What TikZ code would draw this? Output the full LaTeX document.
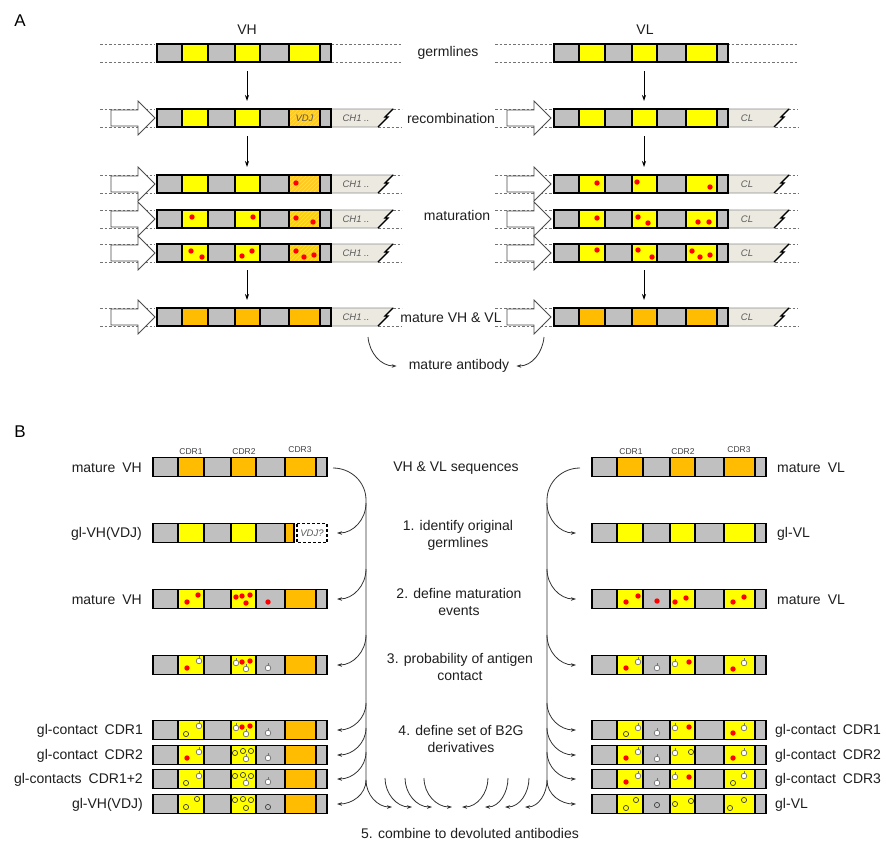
\documentclass[tikz,border=0pt]{standalone}
\usepackage{fontspec}
\setmainfont{Liberation Sans}
\usetikzlibrary{arrows.meta}
\definecolor{sgray}{RGB}{192,192,192}
\definecolor{syel}{RGB}{255,255,0}
\definecolor{sorg}{RGB}{255,188,0}
\definecolor{shatch}{RGB}{255,200,40}
\definecolor{sbeige}{RGB}{236,234,224}
\definecolor{sred}{RGB}{255,0,0}
\definecolor{stxt}{RGB}{30,30,30}
\tikzset{
  lbl/.style={font=\fontsize{14}{17}\selectfont, inner sep=0pt, text=stxt, align=center},
  cdr/.style={font=\fontsize{8.5}{10}\selectfont, inner sep=0pt, text=black!75},
  chtxt/.style={font=\fontsize{9.5}{10}\selectfont\itshape, inner sep=0pt, text=black!65},
  dashline/.style={dash pattern=on 2.5pt off 2pt, black!55, line width=0.7pt},
  varr/.style={-{Stealth[length=6pt,width=4pt]}, line width=0.8pt},
  flow/.style={-{Stealth[length=5pt,width=3.5pt]}, line width=0.8pt, black!80},
  segline/.style={line width=1.1pt},
  barframe/.style={line width=1.7pt},
  hollow/.style={fill=white, draw=black!70, line width=0.8pt},
}
\def\segx{{0,25,51,78,103,132,163,174}}
\def\hh{9}
\newcommand\drawbar[4]{%
  \foreach \cc [count=\i from 0] in {#3}{%
    \pgfmathsetmacro\xa{#1+\segx[\i]}%
    \pgfmathsetmacro\xb{#1+\segx[\i+1]}%
    \filldraw[fill=\cc, draw=black, segline] (\xa,#2-\hh) rectangle (\xb,#2+\hh);
  }
  \draw[barframe] (#1,#2-\hh) rectangle (#1+174,#2+\hh);
  \coordinate (#4-w) at (#1,#2);
  \coordinate (#4-e) at (#1+174,#2);
  \coordinate (#4-n) at (#1+90,#2-\hh);
  \coordinate (#4-s) at (#1+90,#2+\hh);
}
\newcommand\hatchseg[2]{% x0 of bar, yc
  \begin{scope}
    \clip (#1+132,#2-\hh) rectangle (#1+163,#2+\hh);
    \fill[shatch] (#1+132,#2-\hh) rectangle (#1+163,#2+\hh);
    \foreach \k in {-24,-20,...,34}{
      \draw[syel!70!shatch, line width=0.5pt] (#1+132+\k,#2+\hh) -- ++(20,-20);
    }
  \end{scope}
  \draw[segline] (#1+132,#2-\hh) rectangle (#1+163,#2+\hh);
  \draw[barframe] (#1,#2-\hh) rectangle (#1+174,#2+\hh);
}
\newcommand\hollowarrow[3]{%
  \draw[hollow] (#1-44,#2-8) -- (#1-17,#2-8) -- (#1-17,#2-17) -- (#1,#2)
     -- (#1-17,#2+17) -- (#1-17,#2+8) -- (#1-44,#2+8) -- cycle;
  \coordinate (#3) at (#1,#2);
}
\newcommand\chbox[5]{% x0, yc, text, name, text offset
  \filldraw[fill=sbeige, draw=black!45, line width=0.8pt] (#1,#2-9) -- (#1+62,#2-9)
     -- (#1+54,#2-1) -- (#1+57,#2-1) -- (#1+47,#2+9) -- (#1,#2+9) -- cycle;
  \draw[line width=1.3pt] (#1+62,#2-9) -- (#1+54,#2-1) -- (#1+57,#2-1) -- (#1+47,#2+9);
  \node[chtxt] (#4) at (#1+#5,#2) {#3};
}
\newcommand\rdot[2]{\fill[sred] (#1,#2) circle (2.7);}
\newcommand\wdot[2]{\draw[line width=0.6pt, black!55] (#1,#2-2.5) -- (#1,#2-5);
  \filldraw[fill=white, draw=black!55, line width=0.7pt] (#1,#2) circle (2.8);}
\newcommand\gdot[2]{\draw[line width=0.7pt, black!75] (#1,#2) circle (2.6);}
\begin{document}
\begin{tikzpicture}[x=1pt,y=-1pt]
\useasboundingbox (0,0) rectangle (886,841);
\fill[white] (0,0) rectangle (886,841);

%================ PANEL A =================
\node[font=\fontsize{17}{17}\selectfont, inner sep=0pt] (labA) at (20,21) {A};
\node[lbl] (tVH) at (247,30) {VH};
\node[lbl] (tVL) at (645,30) {VL};

% dashed guide lines
\foreach \y in {53,118,184,219,253,317}{
  \draw[dashline] (100,\y-9) -- (155,\y-9) (100,\y+9) -- (155,\y+9);
  \draw[dashline] (495,\y-9) -- (552,\y-9) (495,\y+9) -- (552,\y+9);
}
\draw[dashline] (331,44) -- (402,44) (331,62) -- (402,62);
\draw[dashline] (727,44) -- (798,44) (727,62) -- (798,62);
\foreach \y in {118,184,219,253,317}{
  \draw[dashline] (393,\y-9) -- (402,\y-9) (378,\y+9) -- (402,\y+9);
  \draw[dashline] (788,\y-9) -- (798,\y-9) (775,\y+9) -- (798,\y+9);
}

% constant-region boxes
\foreach \y [count=\n from 2] in {118,184,219,253,317}{
  \chbox{331}{\y}{CH1 ..}{chh\n}{25}
  \chbox{727}{\y}{CL}{chl\n}{20}
}

% VH bars
\drawbar{157}{53}{sgray,syel,sgray,syel,sgray,syel,sgray}{vh1}
\drawbar{157}{118}{sgray,syel,sgray,syel,sgray,sorg,sgray}{vh2}
\hatchseg{157}{118}
\node[chtxt, font=\fontsize{9.5}{10}\selectfont\itshape] (vdj) at (304.5,118) {VDJ};
\drawbar{157}{184}{sgray,syel,sgray,syel,sgray,sorg,sgray}{vh3}
\hatchseg{157}{184}
\drawbar{157}{219}{sgray,syel,sgray,syel,sgray,sorg,sgray}{vh4}
\hatchseg{157}{219}
\drawbar{157}{253}{sgray,syel,sgray,syel,sgray,sorg,sgray}{vh5}
\hatchseg{157}{253}
\drawbar{157}{317}{sgray,sorg,sgray,sorg,sgray,sorg,sgray}{vh6}

% VL bars
\drawbar{554}{53}{sgray,syel,sgray,syel,sgray,syel,sgray}{vl1}
\drawbar{554}{118}{sgray,syel,sgray,syel,sgray,syel,sgray}{vl2}
\drawbar{554}{184}{sgray,syel,sgray,syel,sgray,syel,sgray}{vl3}
\drawbar{554}{219}{sgray,syel,sgray,syel,sgray,syel,sgray}{vl4}
\drawbar{554}{253}{sgray,syel,sgray,syel,sgray,syel,sgray}{vl5}
\drawbar{554}{317}{sgray,sorg,sgray,sorg,sgray,sorg,sgray}{vl6}

% mutations panel A
\foreach \x/\y in {296/183, 192/217,253/217,296/218,313/222,
   191/251,202/257,242/256,252/251,296/251,304/257,314/255,
   597/183,637/182,710/187, 597/218,638/217,648/223,698/222,709/222,
   597/250,638/250,652/257,692/251,700/257,710/255}{\rdot{\x}{\y}}

% hollow arrows
\foreach \y [count=\n from 2] in {118,184,219,253,317}{
  \hollowarrow{155}{\y}{hah\n}
  \hollowarrow{551}{\y}{hal\n}
}

% vertical arrows
\draw[varr, shorten <=9pt, shorten >=8pt] (vh1-s) -- (vh2-n);
\draw[varr, shorten <=9pt, shorten >=8pt] (vh2-s) -- (vh3-n);
\draw[varr, shorten <=8pt, shorten >=8pt] (vh5-s) -- (vh6-n);
\draw[varr, shorten <=9pt, shorten >=8pt] (vl1-s) -- (vl2-n);
\draw[varr, shorten <=9pt, shorten >=8pt] (vl2-s) -- (vl3-n);
\draw[varr, shorten <=8pt, shorten >=8pt] (vl5-s) -- (vl6-n);

% middle labels A
\node[lbl] (germ) at (448,53) {germlines};
\node[lbl] (recomb) at (451,118) {recombination};
\node[lbl] (matur) at (457,215) {maturation};
\node[lbl] (matvhvl) at (451,318) {mature VH \& VL};
\node[lbl] (mab) at (459,366) {mature antibody};
\coordinate (mabl) at (368,337);
\coordinate (mabr) at (544,337);
\draw[flow] (mabl) to[out=-85,in=180] ([xshift=-12pt]mab.west);
\draw[flow] (mabr) to[out=-95,in=0] ([xshift=7pt]mab.east);

%================ PANEL B =================
\node[font=\fontsize{17}{17}\selectfont, inner sep=0pt] (labB) at (20,432) {B};
\def\hh{9.5}

% VH side
\drawbar{153}{467}{sgray,sorg,sgray,sorg,sgray,sorg,sgray}{bh1}
% gl-VH(VDJ) special row
\foreach \cc [count=\i from 0] in {sgray,syel,sgray,syel,sgray}{
  \pgfmathsetmacro\xa{153+\segx[\i]}
  \pgfmathsetmacro\xb{153+\segx[\i+1]}
  \filldraw[fill=\cc, draw=black, segline] (\xa,523.5) rectangle (\xb,542.5);
}
\filldraw[fill=sorg, draw=black, segline] (285,523.5) rectangle (294,542.5);
\draw[barframe] (153,523.5) rectangle (294,542.5);
\draw[line width=1.2pt, dash pattern=on 3pt off 2pt] (297,523.5) rectangle (327,542.5);
\node[chtxt] (vdjq) at (312,533) {VDJ?};
\coordinate (bh2-e) at (327,533);
\foreach \y [count=\n from 3] in {599,665,730,755,779,804}{
  \drawbar{153}{\y}{sgray,syel,sgray,syel,sgray,sorg,sgray}{bh\n}
}

% VL side
\drawbar{592}{467}{sgray,sorg,sgray,sorg,sgray,sorg,sgray}{bl1}
\drawbar{592}{533}{sgray,syel,sgray,syel,sgray,syel,sgray}{bl2}
\foreach \y [count=\n from 3] in {599,665,730,755,779,804}{
  \drawbar{592}{\y}{sgray,syel,sgray,syel,sgray,syel,sgray}{bl\n}
}

% CDR labels
\node[cdr] (c1h) at (191,452) {CDR1};
\node[cdr] (c2h) at (244,452) {CDR2};
\node[cdr] (c3h) at (300,450) {CDR3};
\node[cdr] (c1l) at (631,452) {CDR1};
\node[cdr] (c2l) at (683,452) {CDR2};
\node[cdr] (c3l) at (739,450) {CDR3};

% VH mutations
\foreach \x/\y in {187/602,198/595,236/597,242/596,250/595,246/603,268/602,
   187/668,242/662,250/661, 242/727,250/726, 187/758}{\rdot{\x}{\y}}
\foreach \x/\y in {199/661,236/663,246/669,268/668,
   199/726,236/728,246/734,268/733,
   199/752,246/759,268/758,
   199/776,246/783,268/782}{\wdot{\x}{\y}}
\foreach \x/\y in {186/734, 235/753,243/751,251/751,
   186/783,235/776,243/775,251/776,
   186/807,197/799,235/800,243/799,251/800,246/808,268/807}{\gdot{\x}{\y}}

% VL mutations
\foreach \x/\y in {626/602,638/596,657/601,675/602,686/598,733/602,744/597,
   626/668,689/662,733/669, 689/727,733/733, 626/758,733/758,
   626/782,689/777}{\rdot{\x}{\y}}
\foreach \x/\y in {638/662,657/668,675/664,744/663,
   638/728,657/733,675/728,744/728,
   638/752,657/759,675/753,744/753,
   638/776,657/783,675/777,744/776}{\wdot{\x}{\y}}
\foreach \x/\y in {626/734, 691/752, 733/783,
   626/808,636/800,657/805,675/804,691/801,730/808,744/800}{\gdot{\x}{\y}}

% left labels
\node[lbl, anchor=east] (lh1) at (142,468) {mature\enspace VH};
\node[lbl, anchor=east] (lh2) at (142,534) {gl-VH(VDJ)};
\node[lbl, anchor=east] (lh3) at (142,600) {mature\enspace VH};
\node[lbl, anchor=east] (lh5) at (143,731) {gl-contact\enspace CDR1};
\node[lbl, anchor=east] (lh6) at (143,756) {gl-contact\enspace CDR2};
\node[lbl, anchor=east] (lh7) at (143,780) {gl-contacts\enspace CDR1+2};
\node[lbl, anchor=east] (lh8) at (143,805) {gl-VH(VDJ)};
% right labels
\node[lbl, anchor=west] (rl1) at (777,468) {mature\enspace VL};
\node[lbl, anchor=west] (rl2) at (777,534) {gl-VL};
\node[lbl, anchor=west] (rl3) at (777,600) {mature\enspace VL};
\node[lbl, anchor=west] (rl5) at (775,731) {gl-contact\enspace CDR1};
\node[lbl, anchor=west] (rl6) at (775,756) {gl-contact\enspace CDR2};
\node[lbl, anchor=west] (rl7) at (775,780) {gl-contact\enspace CDR3};
\node[lbl, anchor=west] (rl8) at (775,805) {gl-VL};

% middle text
\node[lbl] (s0) at (456,468) {VH \& VL sequences};
\node[lbl] (s1) at (458,535) {1. identify original\\germlines};
\node[lbl] (s2) at (459,602) {2. define maturation\\events};
\node[lbl] (s3) at (460,667) {3. probability of antigen\\contact};
\node[lbl] (s4) at (461,739) {4. define set of B2G\\derivatives};
\node[lbl] (s5) at (470,833) {5. combine to devoluted antibodies};

% left spine
\coordinate (lsTop) at (333,468);
\coordinate (lsBot) at (366,780);
\draw[line width=0.8pt, black!80] (lsTop) to[out=0,in=90] (366,500) -- (lsBot);
\foreach \y/\s in {533/30,599/30,665/30,730/27,755/27,779/27}{
  \coordinate (lt) at (337,\y);
  \draw[flow] (366,\y-\s) to[out=-90,in=0] (lt);
}
\coordinate (lt8) at (337,804);
\coordinate (lb1) at (392,807);
\draw[flow] (lsBot) to[out=-90,in=0] (lt8);
\draw[flow] (lsBot) to[out=-90,in=180] (lb1);
\foreach \a/\b in {385/412,405/432,424/452}{
  \coordinate (fb) at (\b,807);
  \draw[flow] (\a,778) to[out=-90,in=180] (fb);
}

% right spine
\coordinate (rsTop) at (580,468);
\coordinate (rsBot) at (547,780);
\draw[line width=0.8pt, black!80] (rsTop) to[out=180,in=90] (547,500) -- (rsBot);
\foreach \y/\s in {533/30,599/30,665/30,730/27,755/27,779/27}{
  \coordinate (rt) at (576,\y);
  \draw[flow] (547,\y-\s) to[out=-90,in=180] (rt);
}
\coordinate (rt8) at (576,804);
\coordinate (rb1) at (525,807);
\draw[flow] (rsBot) to[out=-90,in=180] (rt8);
\draw[flow] (rsBot) to[out=-90,in=0] (rb1);
\foreach \a/\b in {488/462,508/485,529/505}{
  \coordinate (fb) at (\b,807);
  \draw[flow] (\a,778) to[out=-90,in=0] (fb);
}
\end{tikzpicture}
\end{document}
